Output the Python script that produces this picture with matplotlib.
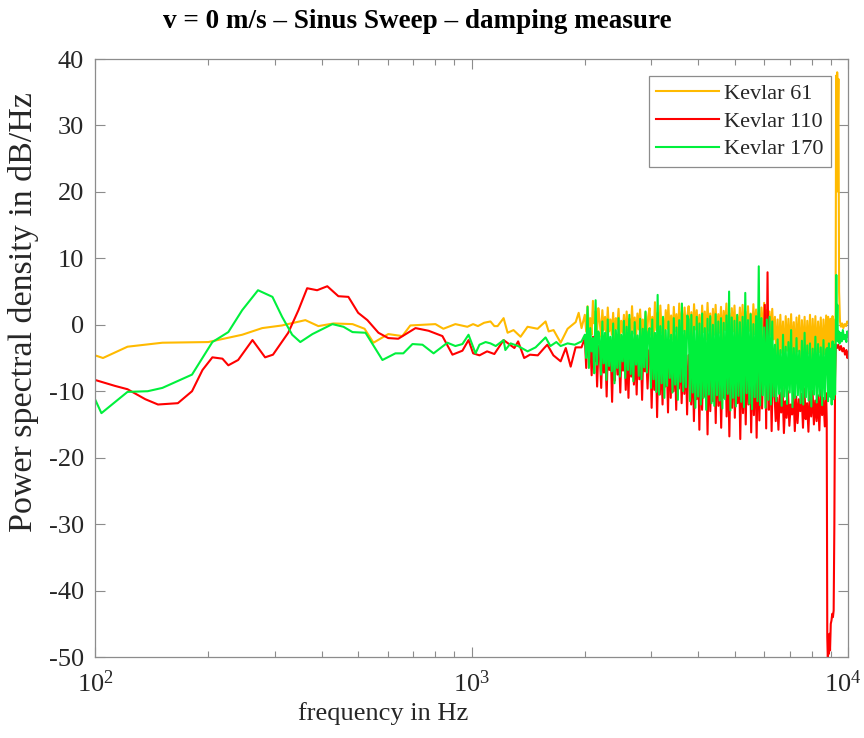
import numpy as np
import matplotlib
matplotlib.use('Agg')
import matplotlib.pyplot as plt
import matplotlib.transforms as mtransforms
from matplotlib.ticker import LogLocator, NullFormatter

plt.rcParams['font.family'] = ['Liberation Serif', 'DejaVu Serif']
plt.rcParams['mathtext.fontset'] = 'custom'
plt.rcParams['mathtext.rm'] = 'Liberation Serif'
plt.rcParams['mathtext.it'] = 'Liberation Serif:italic'
plt.rcParams['axes.unicode_minus'] = False

# ---------------- data ----------------
labels = ['Kevlar 61', 'Kevlar 110', 'Kevlar 170']
colors = ['#FFBA00', '#FF0000', '#00F03C']

# low-frequency part (Hz, dB)
k61_lf_f = [100, 105, 122, 151, 200, 246, 278, 314, 362, 392, 430, 483, 520, 549, 601, 655, 688,
            740, 802, 842, 906, 975, 1010, 1040, 1080, 1123, 1150, 1173, 1217, 1247, 1293, 1350,
            1409, 1498, 1573, 1603, 1652, 1725, 1800, 1891, 1926, 1960]
k61_lf_v = [-4.6, -5.0, -3.3, -2.7, -2.6, -1.5, -0.5, -0.1, 0.7, -0.2, 0.2, 0.1, -0.6, -2.7, -1.4, -1.7, -0.1,
            0.0, 0.1, -0.6, 0.1, -0.3, 0.1, -0.2, 0.3, 0.5, -0.2, -0.2, 1.0, -1.2, -0.8, -1.8,
            -0.3, -0.6, 0.5, -1.0, -0.8, -2.7, -0.6, 0.4, 1.8, -0.5]

k110_lf_f = [100, 113, 122, 136, 147, 166, 181, 193, 205, 218, 226, 240, 262, 283, 297, 326, 347, 366,
             389, 414, 443, 471, 500, 529, 566, 601, 639, 710, 769, 837, 890, 946, 982, 1010, 1050,
             1100, 1150, 1217, 1300, 1330, 1380, 1430, 1500, 1560, 1590, 1650, 1725, 1780, 1834, 1890, 1960]
k110_lf_v = [-8.3, -9.2, -9.7, -11.2, -12.0, -11.8, -10.0, -6.8, -4.9, -5.1, -6.1, -5.3, -2.3, -4.9, -4.5,
             -1.2, 2.2, 5.5, 5.2, 5.8, 4.3, 4.2, 1.8, 0.7, -1.2, -2.0, -2.1, -0.5, -0.9, -1.7, -4.5, -3.9,
             -2.3, -4.3, -4.6, -4.0, -4.4, -2.3, -3.5, -2.5, -5.0, -4.5, -4.6, -3.5, -3.0, -4.6, -5.5,
             -3.5, -6.3, -3.4, -3.4]

k170_lf_f = [100, 104, 122, 138, 151, 181, 205, 226, 246, 271, 296, 314, 334, 351, 378, 427, 457, 483,
             523, 580, 628, 659, 697, 741, 793, 863, 906, 946, 982, 1025, 1050, 1090, 1123, 1160, 1217,
             1230, 1270, 1330, 1409, 1480, 1573, 1620, 1680, 1725, 1800, 1880, 1960]
k170_lf_v = [-11.2, -13.3, -10.1, -10.0, -9.5, -7.5, -2.6, -1.1, 2.2, 5.2, 4.2, 1.2, -1.5, -2.6, -1.4,
             0.1, -0.3, -1.1, -1.2, -5.3, -4.3, -4.3, -2.9, -3.0, -4.3, -2.7, -3.2, -2.9, -1.5, -4.3,
             -3.0, -2.6, -2.8, -3.2, -2.3, -3.8, -2.8, -3.2, -4.0, -3.4, -1.9, -3.2, -2.6, -3.2, -2.8,
             -3.0, -2.5]

# noisy band 2000 Hz .. 8750 Hz, readings at evenly log-spaced frequencies
hf_start, hf_end = 2000, 8750
k61_hf = [1.5, -1.0, 2.8, -0.5, 1.0, -1.5, 3.6, 0.2, 2.0, -1.2, 2.5,
          0.5, -1.8, 2.2, -0.8, 1.2, -2.0, 2.6, -1.0, 0.8, -1.5, 1.8, -2.2, 1.0, -0.6, 2.4, -1.9, 0.6,
          -1.2, 1.5, -2.4, 2.0, -0.9, 0.9, -1.6, 2.8, -1.3, 1.1, -2.0, 1.7, -0.7, 2.3, -1.8, 0.8, -1.4,
          1.9, -2.1, 1.2,
          2.5, -1.5, 1.2, -2.3, 3.4, -0.8, 1.8, -2.0, 2.9, -1.2, 1.0, -2.5, 2.2, -0.6, 3.0, -1.8, 1.4,
          -2.2, 2.7, -1.0, 1.6, -2.6, 3.2, -1.4, 2.0, -0.9, 2.6, -2.1, 1.3,
          2.8, -1.7, 1.9, -2.4, 3.1, -0.7, 2.2, -1.9, 1.5, -2.8, 2.9, -1.1, 2.0, -2.2, 3.3, -0.9, 1.7,
          -2.5, 2.4, -1.5, 3.0, -2.0, 1.6, -1.2, 2.7, -2.6, 2.1, -0.8, 3.2, -1.8, 1.8, -2.3, 2.5, -1.0,
          2.9, -2.7, 1.4, -1.6, 2.6, -2.1, 3.0, -1.3, 2.0, -2.4, 2.8, -0.9, 1.7, -2.9, 3.1, -1.4, 2.3,
          -2.0, 1.9, -1.1, 2.6, -2.5, 3.3, -1.7, 2.2, -3.0, 2.0, -1.5, 2.4, -2.2,
          1.2, -4.8, 0.8, -5.3, 1.5, -4.2, 0.5, -5.6, 1.3, -3.9, 0.9, -5.0, 1.6, -4.5, 0.4, -5.4, 1.1,
          -4.0, 1.4, -5.7, 0.7, -4.6, 1.2, -5.1, 0.6, -4.3, 1.5, -5.5, 0.9, -4.7, 1.3, -5.2, 0.5, -4.1,
          1.1, -5.8, 0.8, -4.4, 1.4]
k110_hf = [-2.0, -6.5, -1.2, -4.8, -3.0, -7.6, -1.8, -5.5, -2.5, -9.3, -3.2,
           -4.0, -9.5, -2.8, -7.2, -3.5, -10.8, -2.5, -6.8, -4.2, -11.6, -3.0, -8.4, -2.2, -7.5, -4.5,
           -10.2, -3.3, -6.9, -2.7, -9.8, -3.8, -11.0, -2.9, -7.8, -4.1, -9.0, -3.1, -10.5, -2.4, -8.2,
           -3.6, -11.3, -2.6, -7.0, -4.3, -9.6, -3.9,
           -3.5, -12.5, -4.0, -9.8, -2.8, -13.9, -3.8, -10.5, -5.0, -12.0, -3.2, -9.3, -4.4, -13.2,
           -2.9, -11.0, -4.8, -10.0, -3.6, -12.8, -4.1, -9.6, -3.0, -11.8, -5.2, -10.4, -3.4, -13.5, -4.6,
           -4.5, -12.0, -3.8, -14.5, -5.5, -11.2, -4.0, -15.8, -3.2, -12.8, -5.0, -10.8, -4.2, -16.5,
           -3.6, -13.0, -5.8, -11.5, -4.4, -14.8, -3.0, -12.2, -6.0, -15.5, -4.8, -11.0, -3.5, -13.8,
           -5.2, -16.8, -4.0, -12.5, -3.3, -14.0, -5.6, -11.8, -4.6, -17.2, -3.9, -13.3, -5.1, -15.0,
           -4.3, -12.0, -3.4, -16.2, -5.4, -13.6, -4.1, -17.0, -3.7, -14.4, -5.0, -12.6, -4.7, 3.0,
           -15.6, 7.9, -12.8, -4.9, -16.0, -5.3,
           -9.8, -14.5, -11.0, -15.8, -10.2, -13.2, -9.5, -16.3, -11.5, -14.0, -10.0, -15.2, -12.0,
           -13.5, -9.8, -16.0, -10.8, -14.8, -11.2, -13.0, -10.4, -15.5, -9.6, -14.2, -11.8, -16.1,
           -10.1, -13.8, -9.9, -15.0, -11.4, -14.5, -10.6, -15.9, -9.7, -13.6, -11.0, -15.3, -10.3]
k170_hf = [-1.5, -5.0, 2.7, -6.5, -0.5, -4.0, -2.0, -7.3, 3.7, -6.0, -1.0,
           -2.0, -7.5, 0.5, -5.8, -1.2, -8.3, 0.8, -6.2, -1.8, -7.0, 0.2, -8.8, -0.8, -6.5, 1.0, -7.8,
           -1.5, -5.5, 0.6, -8.0, -0.3, -6.8, 1.5, -7.4, -1.0, -8.5, 0.4, -6.0, -1.6, -7.7, 0.9, -8.2,
           -0.6, -6.4, 2.0, -7.2, -1.1,
           -0.5, -9.5, 0.8, -8.2, -1.2, -10.1, 4.5, -10.5, -0.2, -8.8, 1.2, -11.0, -0.8, -9.2, 0.5,
           -8.0, -1.5, -10.2, 1.0, -9.0, -0.4, -11.3, 0.7, -8.6, 3.2, -10.0, -0.9, -9.4, 1.4,
           0.8, -11.5, 1.5, -10.2, -0.3, -12.5, 1.2, -10.8, 0.2, -12.0, 1.7, -11.0, -0.5, -12.8, 0.9,
           -10.5, 1.3, -11.8, 0.0, -12.2, 1.6, -10.6, 0.5, -11.4, 1.0, -12.6, 0.3, -11.2, 1.4, -10.4,
           5.0, -12.9, 1.1, -11.0, 0.6, -12.3, 1.5, -10.7, 0.4, -11.6, 1.2, -12.4, 4.8, -10.3, 0.7,
           -11.9, 1.6, -12.7, 0.1, -10.9, 1.3, -11.5, 8.8, -12.1, 1.0, -10.6, -0.4, -12.5, 0.8, -11.3,
           1.2, -12.0, 0.5, -10.8,
           -3.0, -11.5, -2.2, -10.4, -3.8, -12.2, -1.5, -10.8, -3.3, -11.9, -2.6, -10.2, -0.8, -12.4,
           -3.5, -11.0, -2.0, -10.6, -3.9, -11.8, -2.4, -12.0, -1.2, -10.9, -3.1, -11.4, -2.8, -12.3,
           -3.6, -10.5, -1.8, -11.7, -2.9, -10.7, -3.4, -12.1, -2.3, -11.2, -3.7]

# top end: resonance spike / notch (Hz, dB)
k61_top_f = [8800, 8860, 8920, 8980, 9040, 9100, 9160, 9220, 9270, 9300, 9330, 9360, 9400, 9430,
             9470, 9520, 9580, 9650, 9720, 9800, 9880, 9950, 10000]
k61_top_v = [-4.5, 1.2, -5.0, 0.9, -4.6, 1.3, -5.2, 0.6, 1.0, 37.5, 20.0, 38.0, 30.0, 37.0,
             5.0, 0.5, -0.3, 0.2, -0.5, 0.1, -0.2, 0.5, 0.3]
k110_top_f = [8780, 8810, 8840, 8870, 8900, 8930, 8960, 9000, 9040, 9080, 9120, 9160, 9200, 9240,
              9280, 9350, 9420, 9500, 9580, 9660, 9740, 9820, 9900, 9960, 10000]
k110_top_v = [-14.5, -47.0, -50.5, -48.0, -49.5, -46.5, -49.0, -45.0, -44.5, -43.5, -44.0, -43.0,
              -30.0, -8.0, -3.0, -3.5, -3.0, -3.8, -3.2, -4.0, -3.5, -4.5, -3.8, -5.0, -4.2]
k170_top_f = [8800, 8850, 8900, 8950, 9000, 9050, 9100, 9150, 9200, 9240, 9280, 9310, 9340, 9370,
              9400, 9450, 9500, 9560, 9620, 9690, 9760, 9830, 9900, 9960, 10000]
k170_top_v = [-3.5, -11.5, -2.8, -10.8, -3.6, -12.0, -2.5, -11.2, -3.0, -10.5, -2.0, 7.5, -1.0, 3.0,
              -2.5, -1.0, -2.8, -1.2, -2.5, -0.8, -2.2, -1.5, -2.6, -1.0, -1.8]

x_ticks = [100, 1000, 10000]
x_ticklabels = ['$10^{2}$', '$10^{3}$', '$10^{4}$']
y_ticks = [-50, -40, -30, -20, -10, 0, 10, 20, 30, 40]

def assemble(lf_f, lf_v, hf_v, top_f, top_v):
    hf_f = np.geomspace(hf_start, hf_end, len(hf_v))
    f = np.concatenate([lf_f, hf_f, top_f])
    v = np.concatenate([lf_v, hf_v, top_v])
    return f, v

series = [assemble(k61_lf_f, k61_lf_v, k61_hf, k61_top_f, k61_top_v),
          assemble(k110_lf_f, k110_lf_v, k110_hf, k110_top_f, k110_top_v),
          assemble(k170_lf_f, k170_lf_v, k170_hf, k170_top_f, k170_top_v)]

# ---------------- figure ----------------
W, H = 864, 738
fig = plt.figure(figsize=(W / 100, H / 100), dpi=100)
ax = fig.add_axes([95 / W, 1 - 657 / H, (848 - 95) / W, (657 - 59) / H])

for (f, v), lab, c in zip(series, labels, colors):
    ax.plot(f, v, color=c, lw=1.5, label=lab)

ax.set_xscale('log')
ax.set_xlim(100, 10000)
ax.set_ylim(-50, 40)
ax.set_xticks(x_ticks, x_ticklabels)
ax.set_yticks(y_ticks)
ax.xaxis.set_minor_locator(LogLocator(base=10, subs=np.arange(2, 10)))
ax.xaxis.set_minor_formatter(NullFormatter())

text_col = '#262626'
for sp in ax.spines.values():
    sp.set_color('#8c8c8c')
    sp.set_linewidth(0.9)
ax.tick_params(which='both', direction='in', top=True, right=True, colors='#8c8c8c',
               labelcolor=text_col, labelsize=19)
ax.tick_params(which='major', length=7, width=0.8)
ax.tick_params(which='minor', length=4, width=0.8)
ax.tick_params(axis='x', pad=10)
ax.tick_params(axis='y', pad=8)

# keep the right-most decade label inside the canvas
last = ax.get_xticklabels()[-1]
last.set_transform(last.get_transform() +
                   mtransforms.ScaledTranslation(-5 / 100, 0, fig.dpi_scale_trans))

fig.text(383 / W, 1 - 714 / H, 'frequency in Hz', fontsize=19, color=text_col,
         ha='center', va='center')
fig.text(24 / W, 1 - 312 / H, 'Power spectral density in dB/Hz', fontsize=24.5, color=text_col,
         rotation=90, ha='center', va='center')
fig.text(417 / W, 1 - 22 / H, 'v = 0 m/s – Sinus Sweep – damping measure', fontsize=19.5,
         fontweight='bold', color='black', ha='center', va='center')

leg = ax.legend(loc='upper right', fontsize=16, frameon=True, fancybox=False,
                edgecolor='#8c8c8c', framealpha=1, handlelength=2.8, handletextpad=0.25,
                labelspacing=0.32, borderpad=0.35, borderaxespad=0.75)
leg.get_frame().set_linewidth(0.9)
for t in leg.get_texts():
    t.set_color(text_col)

fig.savefig('out.png', dpi=100, facecolor='white')
